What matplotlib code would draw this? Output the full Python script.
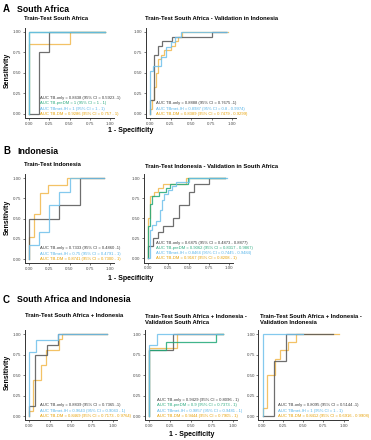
import matplotlib
matplotlib.use("Agg")
import matplotlib.pyplot as plt

plt.rcParams['font.family'] = ['Liberation Sans', 'DejaVu Sans']

W, H = 371, 440

# colours per model
C_ONLY = '#555555'
C_PRE = '#1FA878'
C_MET = '#6EC0EC'
C_DM = '#F2B84B'
T_ONLY = '#3a3a3a'
T_PRE = '#2BAA7E'
T_MET = '#56B4E9'
T_DM = '#E69F00'

# ---- A1: Train-Test South Africa
a1_only_fpr = [0, 0.125, 0.25, 0.94]
a1_only_tpr = [0, 0.75, 1, 1]
a1_pre_fpr = [0, 0, 0.94]
a1_pre_tpr = [0, 1, 1]
a1_met_fpr = [0, 0, 0.94]
a1_met_tpr = [0, 1, 1]
a1_dm_fpr = [0, 0, 0.5, 0.94]
a1_dm_tpr = [0, 0.857, 1, 1]
a1_labels = ["AUC TB-only = 0.8438 (95% CI = 0.5923 -1)",
             "AUC TB-preDM = 1 (95% CI = 1 - 1)",
             "AUC TBmet-IH = 1 (95% CI = 1 - 1)",
             "AUC TB-DM = 0.9286 (95% CI = 0.757 - 1)"]

# ---- A2: Train-Test South Africa - Validation in Indonesia
a2_only_fpr = [0, 0, 0.05, 0.1, 0.15, 0.27, 0.75, 0.93]
a2_only_tpr = [0, 0.17, 0.72, 0.83, 0.89, 0.94, 1, 1]
a2_met_fpr = [0, 0, 0.04, 0.14, 0.2, 0.26, 0.3, 0.38, 0.94]
a2_met_tpr = [0, 0.53, 0.59, 0.7, 0.82, 0.88, 0.94, 1, 1]
a2_dm_fpr = [0, 0, 0.02, 0.05, 0.07, 0.1, 0.14, 0.17, 0.26, 0.3, 0.34, 0.39, 0.95]
a2_dm_tpr = [0, 0.06, 0.17, 0.33, 0.5, 0.67, 0.72, 0.78, 0.83, 0.89, 0.94, 1, 1]
a2_labels = ["AUC TB-only = 0.8888 (95% CI = 0.7675 -1)",
             "AUC TBmet-IH = 0.8987 (95% CI = 0.8 - 0.9974)",
             "AUC TB-DM = 0.8389 (95% CI = 0.7479 - 0.9299)"]

# ---- B1: Train-Test Indonesia
b1_only_fpr = [0, 0, 0.375, 0.625, 0.92]
b1_only_tpr = [0, 0.5, 0.667, 1, 1]
b1_met_fpr = [0, 0, 0.125, 0.25, 0.375, 0.5, 0.92]
b1_met_tpr = [0, 0.167, 0.333, 0.667, 0.833, 1, 1]
b1_dm_fpr = [0, 0, 0.065, 0.14, 0.23, 0.47, 0.92]
b1_dm_tpr = [0, 0.27, 0.55, 0.82, 0.91, 1, 1]
b1_labels = ["AUC TB-only = 0.7333 (95% CI = 0.4860 -1)",
             "AUC TBmet-IH = 0.75 (95% CI = 0.4791 - 1)",
             "AUC TB-DM = 0.8741 (95% CI = 0.7300 - 1)"]

# ---- B2: Train-Test Indonesia - Validation in South Africa
b2_only_fpr = [0, 0, 0.06, 0.12, 0.19, 0.31, 0.38, 0.5, 0.57, 0.75, 0.95]
b2_only_tpr = [0, 0.15, 0.25, 0.33, 0.4, 0.5, 0.67, 0.83, 0.92, 1, 1]
b2_pre_fpr = [0, 0, 0.02, 0.05, 0.14, 0.22, 0.27, 0.49, 0.95]
b2_pre_tpr = [0, 0.4, 0.68, 0.78, 0.82, 0.88, 0.92, 1, 1]
b2_met_fpr = [0, 0.02, 0.05, 0.1, 0.15, 0.17, 0.2, 0.25, 0.3, 0.35, 0.5, 0.97]
b2_met_tpr = [0, 0.35, 0.42, 0.47, 0.6, 0.73, 0.8, 0.85, 0.9, 0.95, 1, 1]
b2_dm_fpr = [0, 0, 0.03, 0.07, 0.12, 0.18, 0.47, 0.95]
b2_dm_tpr = [0, 0.5, 0.78, 0.83, 0.88, 0.92, 1, 1]
b2_labels = ["AUC TB-only = 0.6875 (95% CI = 0.4873 - 0.8877)",
             "AUC TB-preDM = 0.9062 (95% CI = 0.8317 - 0.9867)",
             "AUC TBmet-IH = 0.8464 (95% CI = 0.7445 - 0.9484)",
             "AUC TB-DM = 0.9167 (95% CI = 0.8208 - 1)"]

# ---- C1: Train-Test South Africa + Indonesia
c1_only_fpr = [0, 0, 0.07, 0.21, 0.35, 0.93]
c1_only_tpr = [0, 0.12, 0.75, 0.87, 1, 1]
c1_met_fpr = [0, 0, 0.08, 0.35, 0.93]
c1_met_tpr = [0, 0.78, 0.93, 1, 1]
c1_dm_fpr = [0, 0, 0.05, 0.14, 0.2, 0.36, 0.39, 0.93]
c1_dm_tpr = [0, 0.06, 0.44, 0.62, 0.81, 0.94, 1, 1]
c1_labels = ["AUC TB-only = 0.8839 (95% CI = 0.7365 -1)",
             "AUC TBmet-IH = 0.9643 (95% CI = 0.9043 - 1)",
             "AUC TB-DM = 0.8469 (95% CI = 0.7173 - 0.9764)"]

# ---- C2: Train-Test SA + Indonesia - Validation South Africa
c2_only_fpr = [0, 0, 0.29, 0.88]
c2_only_tpr = [0, 0.8, 1, 1]
c2_pre_fpr = [0, 0, 0.2, 0.8, 0.88]
c2_pre_tpr = [0, 0.8, 0.9, 1, 1]
c2_met_fpr = [0, 0, 0.1, 0.88]
c2_met_tpr = [0, 0.86, 1, 1]
c2_dm_fpr = [0, 0, 0.33, 0.88]
c2_dm_tpr = [0, 0.83, 1, 1]
c2_labels = ["AUC TB-only = 0.9429 (95% CI = 0.8096 - 1)",
             "AUC TB-preDM = 0.9 (95% CI = 0.7373 - 1)",
             "AUC TBmet-IH = 0.9857 (95% CI = 0.9481 - 1)",
             "AUC TB-DM = 0.9444 (95% CI = 0.7905 - 1)"]

# ---- C3: Train-Test SA + Indonesia - Validation Indonesia
c3_only_fpr = [0, 0.143, 0.286, 0.87]
c3_only_tpr = [0, 0.667, 1, 1]
c3_met_fpr = [0, 0, 0.5]
c3_met_tpr = [0, 1, 1]
c3_dm_fpr = [0, 0, 0.06, 0.15, 0.22, 0.32, 0.41, 0.95]
c3_dm_tpr = [0, 0.1, 0.5, 0.7, 0.8, 0.9, 1, 1]
c3_labels = ["AUC TB-only = 0.8095 (95% CI = 0.5144 -1)",
             "AUC TBmet-IH = 1 (95% CI = 1 - 1)",
             "AUC TB-DM = 0.8412 (95% CI = 0.6916 - 0.9908)"]

ticks = [0, 0.25, 0.5, 0.75, 1]

fig = plt.figure(figsize=(W / 100, H / 100), dpi=100)


def ftext(x, y, s, **kw):
    fig.text(x / W, 1 - y / H, s, **kw)


def make_axes(x0, x1, y1, y0):
    # pixel positions of data 0/1 on each axis, ggplot-style 5% expansion
    sx, sy = x1 - x0, y0 - y1
    left, right = x0 - 0.05 * sx, x1 + 0.05 * sx
    top, bottom = y1 - 0.05 * sy, y0 + 0.05 * sy
    ax = fig.add_axes([left / W, 1 - bottom / H, (right - left) / W, (bottom - top) / H])
    ax.set_xlim(-0.05, 1.05)
    ax.set_ylim(-0.05, 1.05)
    ax.set_xticks(ticks)
    ax.set_yticks(ticks)
    ax.set_xticklabels(['%.2f' % t for t in ticks])
    ax.set_yticklabels(['%.2f' % t for t in ticks])
    ax.tick_params(labelsize=3.2, length=1.5, width=0.5, pad=1,
                   colors='#444444', labelcolor='#4d4d4d')
    for s in ['top', 'right']:
        ax.spines[s].set_visible(False)
    for s in ['left', 'bottom']:
        ax.spines[s].set_linewidth(0.7)
        ax.spines[s].set_color('#333333')
    ax.patch.set_alpha(0)
    return ax


def roc(ax, fpr, tpr, color):
    ax.plot(fpr, tpr, drawstyle='steps-post', color=color, lw=0.9, alpha=0.85,
            solid_joinstyle='miter', clip_on=False)


def auc_text(ax, x, labels, colors, step=0.066):
    n = len(labels)
    for i, (lab, c) in enumerate(zip(labels, colors)):
        ax.text(x, (n - 1 - i) * step, lab, fontsize=3.0, color=c,
                va='center', ha='left', clip_on=False)


# ---- row A
ftext(3, 9, "A", fontsize=7, fontweight='bold', va='center')
ftext(17, 9, "South Africa", fontsize=6.3, fontweight='bold', va='center')
ftext(24, 19, "Train-Test South Africa", fontsize=4.2, fontweight='bold', va='center')
ftext(145, 19, "Train-Test South Africa - Validation in Indonesia", fontsize=4.2,
      fontweight='bold', va='center')

ax = make_axes(29, 110, 32, 114)
roc(ax, a1_dm_fpr, a1_dm_tpr, C_DM)
roc(ax, a1_only_fpr, a1_only_tpr, C_ONLY)
roc(ax, a1_pre_fpr, a1_pre_tpr, C_PRE)
roc(ax, a1_met_fpr, a1_met_tpr, C_MET)
auc_text(ax, 0.14, a1_labels, [T_ONLY, T_PRE, T_MET, T_DM])

ax = make_axes(150, 232, 32, 114)
roc(ax, a2_dm_fpr, a2_dm_tpr, C_DM)
roc(ax, a2_only_fpr, a2_only_tpr, C_ONLY)
roc(ax, a2_met_fpr, a2_met_tpr, C_MET)
auc_text(ax, 0.07, a2_labels, [T_ONLY, T_MET, T_DM])

ftext(7, 70, "Sensitivity", fontsize=5, fontweight='bold', va='center', ha='center',
      rotation=90)
ftext(131, 131, "1 - Specificity", fontsize=5, fontweight='bold', va='center', ha='center')

# ---- row B
ftext(3, 151, "B", fontsize=7, fontweight='bold', va='center')
ftext(17, 151, "Indonesia", fontsize=6.3, fontweight='bold', va='center')
ftext(24, 165, "Train-Test Indonesia", fontsize=4.2, fontweight='bold', va='center')
ftext(145, 166, "Train-Test Indonesia - Validation in South Africa", fontsize=4.2,
      fontweight='bold', va='center')

ax = make_axes(29, 110, 178, 259)
roc(ax, b1_dm_fpr, b1_dm_tpr, C_DM)
roc(ax, b1_only_fpr, b1_only_tpr, C_ONLY)
roc(ax, b1_met_fpr, b1_met_tpr, C_MET)
auc_text(ax, 0.14, b1_labels, [T_ONLY, T_MET, T_DM])

ax = make_axes(148, 229, 178, 258.5)
roc(ax, b2_dm_fpr, b2_dm_tpr, C_DM)
roc(ax, b2_only_fpr, b2_only_tpr, C_ONLY)
roc(ax, b2_pre_fpr, b2_pre_tpr, C_PRE)
roc(ax, b2_met_fpr, b2_met_tpr, C_MET)
auc_text(ax, 0.1, b2_labels, [T_ONLY, T_PRE, T_MET, T_DM])

ftext(7, 217, "Sensitivity", fontsize=5, fontweight='bold', va='center', ha='center',
      rotation=90)
ftext(131, 279, "1 - Specificity", fontsize=5, fontweight='bold', va='center', ha='center')

# ---- row C
ftext(3, 300, "C", fontsize=7, fontweight='bold', va='center')
ftext(17, 300, "South Africa and Indonesia", fontsize=6.3, fontweight='bold', va='center')
ftext(25, 315, "Train-Test South Africa + Indonesia", fontsize=4.2, fontweight='bold',
      va='center')
ftext(145, 319.5, "Train-Test South Africa + Indonesia -\nValidation South Africa",
      fontsize=4.2, fontweight='bold', va='center', linespacing=1.1)
ftext(260, 319.5, "Train-Test South Africa + Indonesia -\nValidation Indonesia",
      fontsize=4.2, fontweight='bold', va='center', linespacing=1.1)

ax = make_axes(29, 113, 334, 416)
roc(ax, c1_dm_fpr, c1_dm_tpr, C_DM)
roc(ax, c1_only_fpr, c1_only_tpr, C_ONLY)
roc(ax, c1_met_fpr, c1_met_tpr, C_MET)
auc_text(ax, 0.13, c1_labels, [T_ONLY, T_MET, T_DM])

ax = make_axes(149, 233, 334, 416)
roc(ax, c2_dm_fpr, c2_dm_tpr, C_DM)
roc(ax, c2_only_fpr, c2_only_tpr, C_ONLY)
roc(ax, c2_pre_fpr, c2_pre_tpr, C_PRE)
roc(ax, c2_met_fpr, c2_met_tpr, C_MET)
auc_text(ax, 0.1, c2_labels, [T_ONLY, T_PRE, T_MET, T_DM])

ax = make_axes(262.5, 343.5, 334, 416)
roc(ax, c3_dm_fpr, c3_dm_tpr, C_DM)
roc(ax, c3_only_fpr, c3_only_tpr, C_ONLY)
roc(ax, c3_met_fpr, c3_met_tpr, C_MET)
auc_text(ax, 0.19, c3_labels, [T_ONLY, T_MET, T_DM])

ftext(7, 372, "Sensitivity", fontsize=5, fontweight='bold', va='center', ha='center',
      rotation=90)
ftext(192, 434.5, "1 - Specificity", fontsize=5, fontweight='bold', va='center', ha='center')

fig.savefig("out.png", dpi=100, facecolor='white')
